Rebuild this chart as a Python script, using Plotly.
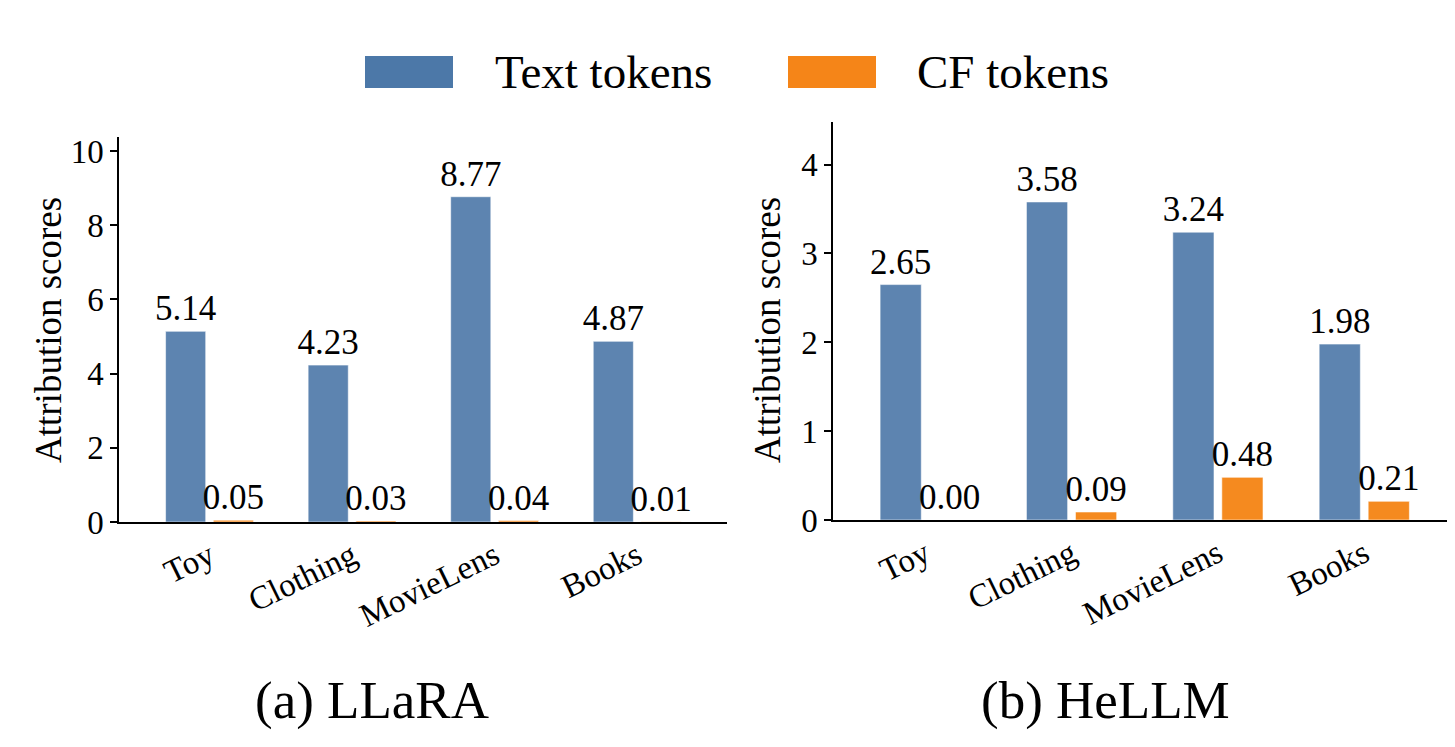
import plotly.graph_objects as go
from plotly.subplots import make_subplots

datasets = ['Toy', 'Clothing', 'MovieLens', 'Books']
llara_text = [5.14, 4.23, 8.77, 4.87]
llara_cf = [0.05, 0.03, 0.04, 0.01]
hellm_text = [2.65, 3.58, 3.24, 1.98]
hellm_cf = [0.00, 0.09, 0.48, 0.21]

blue = '#5d84b0'
orange = '#f58a1f'
font = 'Liberation Serif'

# page body has an 8px margin, so the figure is a bit smaller and positions are offset
W, H, OFF = 1447, 739, 8


def px(x):
    return (x - OFF) / W


def py(y):
    return 1 - (y - OFF) / H


fig = make_subplots(rows=1, cols=2)

panels = [(1, llara_text, llara_cf), (2, hellm_text, hellm_cf)]
for col, text_vals, cf_vals in panels:
    fig.add_trace(go.Bar(x=datasets, y=text_vals, name='Text tokens',
                         marker=dict(color=blue, line=dict(color='rgba(255,255,255,0.55)', width=1)),
                         text=['%.2f' % v for v in text_vals], textposition='outside',
                         textfont=dict(size=35, color='black'), cliponaxis=False,
                         constraintext='none', showlegend=False), row=1, col=col)
    fig.add_trace(go.Bar(x=datasets, y=cf_vals, name='CF tokens',
                         marker=dict(color=orange, line=dict(color='rgba(255,255,255,0.55)', width=1)),
                         text=['%.2f' % v for v in cf_vals], textposition='outside',
                         textfont=dict(size=35, color='black'), cliponaxis=False,
                         constraintext='none', showlegend=False), row=1, col=col)

axis_common = dict(showline=True, linecolor='black', linewidth=1.5, showgrid=False, automargin=False,
                   zeroline=False, tickfont=dict(size=33, family=font, color='black'))

fig.update_xaxes(**axis_common, ticks='', tickangle=-26)
fig.update_yaxes(**axis_common, ticks='outside', ticklen=7, tickwidth=1.5, tickcolor='black')

fig.update_layout(
    xaxis=dict(domain=[px(119), px(727)], range=[-0.635, 3.63]),
    xaxis2=dict(domain=[px(833), 1.0], range=[-0.63, 3.62]),
    yaxis=dict(domain=[py(522), py(137)], range=[0, 10.38], tickvals=[0, 2, 4, 6, 8, 10]),
    yaxis2=dict(domain=[py(520), py(122)], range=[0, 4.48], tickvals=[0, 1, 2, 3, 4]),
    barmode='group', bargap=0.33, bargroupgap=0.16,
    width=W, height=H,
    margin=dict(l=0, r=0, t=0, b=0),
    plot_bgcolor='white', paper_bgcolor='white',
    font=dict(family=font, color='black'),
)

# y axis titles
for xpos in [48, 767]:
    fig.add_annotation(text='Attribution scores', x=px(xpos), y=py(330), xref='paper', yref='paper',
                       xanchor='center', yanchor='middle',
                       textangle=-90, showarrow=False, font=dict(size=37, family=font))

# panel captions
fig.add_annotation(text='(a) LLaRA', x=px(372), y=py(700), xref='paper', yref='paper',
                   xanchor='center', yanchor='middle', showarrow=False, font=dict(size=53, family=font))
fig.add_annotation(text='(b) HeLLM', x=px(1105), y=py(700), xref='paper', yref='paper',
                   xanchor='center', yanchor='middle', showarrow=False, font=dict(size=53, family=font))

# legend drawn by hand to get the wide swatches
legend_items = [('Text tokens', '#4c78a8', 365, 493), ('CF tokens', '#f58518', 788, 915)]
for label, color, x0, xt in legend_items:
    fig.add_shape(type='rect', xref='paper', yref='paper',
                  x0=px(x0), x1=px(x0 + 88), y0=py(88), y1=py(56),
                  fillcolor=color, line=dict(width=0))
    fig.add_annotation(text=label, x=px(xt), y=py(72), xref='paper', yref='paper',
                       xanchor='left', yanchor='middle', showarrow=False, font=dict(size=47, family=font))

fig.write_html('out.html')
